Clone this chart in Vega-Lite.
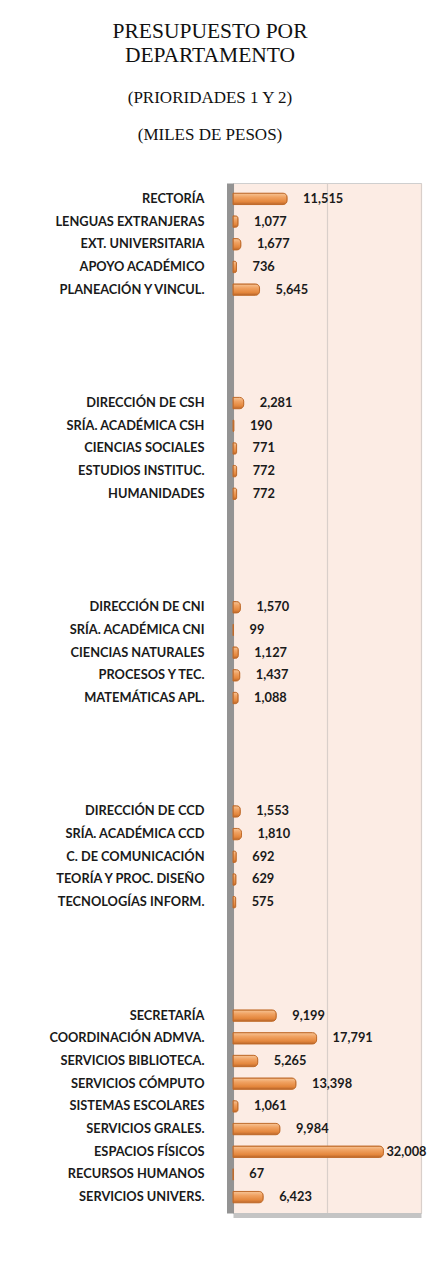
{
  "$schema": "https://vega.github.io/schema/vega-lite/v6.json",
  "autosize": {"type": "none"},
  "width": 188,
  "height": 1030,
  "padding": {"left": 233, "top": 183, "right": 23, "bottom": 73},
  "background": "white",
  "title": {
    "text": ["PRESUPUESTO POR", "DEPARTAMENTO"],
    "subtitle": ["(PRIORIDADES 1 Y 2)", "(MILES DE PESOS)"],
    "font": "Liberation Serif",
    "fontSize": 21.5,
    "fontWeight": "normal",
    "lineHeight": 24,
    "color": "#111111",
    "subtitleFont": "Liberation Serif",
    "subtitleFontSize": 17,
    "subtitleColor": "#111111",
    "subtitleLineHeight": 37,
    "subtitlePadding": 24,
    "anchor": "middle",
    "frame": "group",
    "dx": -117,
    "offset": 40
  },
  "config": {
    "view": {"fill": "#fcece4", "stroke": "#cfcfcf", "strokeWidth": 1}
  },
  "data": {
    "values": [
      {"depto": "RECTORÍA", "monto": 11515},
      {"depto": "LENGUAS EXTRANJERAS", "monto": 1077},
      {"depto": "EXT. UNIVERSITARIA", "monto": 1677},
      {"depto": "APOYO ACADÉMICO", "monto": 736},
      {"depto": "PLANEACIÓN Y VINCUL.", "monto": 5645},
      {"depto": "DIRECCIÓN DE CSH", "monto": 2281},
      {"depto": "SRÍA. ACADÉMICA CSH", "monto": 190},
      {"depto": "CIENCIAS SOCIALES", "monto": 771},
      {"depto": "ESTUDIOS INSTITUC.", "monto": 772},
      {"depto": "HUMANIDADES", "monto": 772},
      {"depto": "DIRECCIÓN DE CNI", "monto": 1570},
      {"depto": "SRÍA. ACADÉMICA CNI", "monto": 99},
      {"depto": "CIENCIAS NATURALES", "monto": 1127},
      {"depto": "PROCESOS Y TEC.", "monto": 1437},
      {"depto": "MATEMÁTICAS APL.", "monto": 1088},
      {"depto": "DIRECCIÓN DE CCD", "monto": 1553},
      {"depto": "SRÍA. ACADÉMICA CCD", "monto": 1810},
      {"depto": "C. DE COMUNICACIÓN", "monto": 692},
      {"depto": "TEORÍA Y PROC. DISEÑO", "monto": 629},
      {"depto": "TECNOLOGÍAS INFORM.", "monto": 575},
      {"depto": "SECRETARÍA", "monto": 9199},
      {"depto": "COORDINACIÓN ADMVA.", "monto": 17791},
      {"depto": "SERVICIOS BIBLIOTECA.", "monto": 5265},
      {"depto": "SERVICIOS CÓMPUTO", "monto": 13398},
      {"depto": "SISTEMAS ESCOLARES", "monto": 1061},
      {"depto": "SERVICIOS GRALES.", "monto": 9984},
      {"depto": "ESPACIOS FÍSICOS", "monto": 32008},
      {"depto": "RECURSOS HUMANOS", "monto": 67},
      {"depto": "SERVICIOS UNIVERS.", "monto": 6423}
    ]
  },
  "encoding": {
    "y": {
      "field": "depto",
      "type": "nominal",
      "title": null,
      "scale": {
        "domain": [
          "RECTORÍA", "LENGUAS EXTRANJERAS", "EXT. UNIVERSITARIA", "APOYO ACADÉMICO", "PLANEACIÓN Y VINCUL.",
          "__gap1", "__gap2", "__gap3", "__gap4",
          "DIRECCIÓN DE CSH", "SRÍA. ACADÉMICA CSH", "CIENCIAS SOCIALES", "ESTUDIOS INSTITUC.", "HUMANIDADES",
          "__gap5", "__gap6", "__gap7", "__gap8",
          "DIRECCIÓN DE CNI", "SRÍA. ACADÉMICA CNI", "CIENCIAS NATURALES", "PROCESOS Y TEC.", "MATEMÁTICAS APL.",
          "__gap9", "__gap10", "__gap11", "__gap12",
          "DIRECCIÓN DE CCD", "SRÍA. ACADÉMICA CCD", "C. DE COMUNICACIÓN", "TEORÍA Y PROC. DISEÑO", "TECNOLOGÍAS INFORM.",
          "__gap13", "__gap14", "__gap15", "__gap16",
          "SECRETARÍA", "COORDINACIÓN ADMVA.", "SERVICIOS BIBLIOTECA.", "SERVICIOS CÓMPUTO", "SISTEMAS ESCOLARES",
          "SERVICIOS GRALES.", "ESPACIOS FÍSICOS", "RECURSOS HUMANOS", "SERVICIOS UNIVERS."
        ],
        "paddingInner": 0.5,
        "paddingOuter": 0.45
      },
      "axis": {
        "labelExpr": "indexof(datum.value, '__gap') == 0 ? '' : datum.label",
        "labelFont": "Lato",
        "labelFontWeight": "bold",
        "labelFontSize": 12.8,
        "labelColor": "#1a1a1a",
        "labelPadding": 26,
        "ticks": false,
        "domain": true,
        "domainColor": "#939393",
        "domainWidth": 7,
        "offset": 3,
        "grid": false
      }
    },
    "x": {
      "field": "monto",
      "type": "quantitative",
      "title": null,
      "scale": {"domain": [0, 40000], "nice": false},
      "axis": {
        "values": [0, 20000, 40000],
        "labels": false,
        "ticks": false,
        "domain": true,
        "domainColor": "#c4c4c4",
        "domainWidth": 5,
        "offset": 2,
        "grid": true,
        "gridColor": "#d9cfca",
        "gridWidth": 1.2
      }
    }
  },
  "layer": [
    {
      "mark": {
        "type": "bar",
        "cornerRadiusEnd": 4,
        "stroke": "#c06b2a",
        "strokeWidth": 1,
        "fill": {
          "gradient": "linear",
          "x1": 0, "y1": 0, "x2": 0, "y2": 1,
          "stops": [
            {"offset": 0, "color": "#f7c597"},
            {"offset": 0.35, "color": "#f0a262"},
            {"offset": 0.75, "color": "#e4873d"},
            {"offset": 1, "color": "#b9662c"}
          ]
        }
      }
    },
    {
      "mark": {
        "type": "text",
        "align": "left",
        "baseline": "middle",
        "dx": {"expr": "datum.monto > 30000 ? 3 : 16"},
        "font": "Lato",
        "fontWeight": "bold",
        "fontSize": 12.8,
        "color": "#1a1a1a"
      },
      "encoding": {
        "text": {"field": "monto", "type": "quantitative", "format": ","}
      }
    }
  ]
}
